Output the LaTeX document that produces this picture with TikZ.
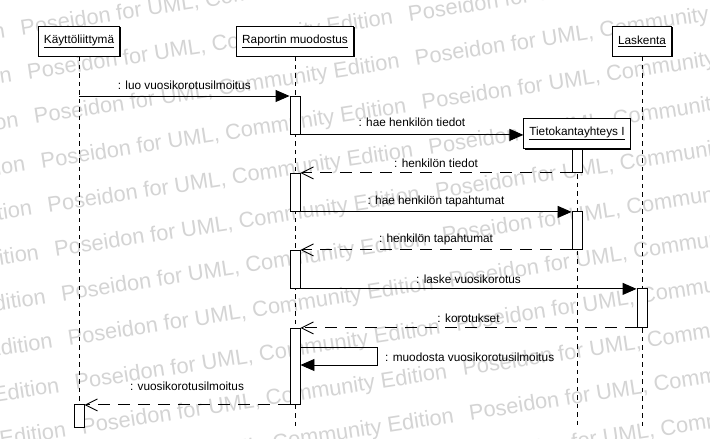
\documentclass[tikz,border=0pt]{standalone}
\usepackage{fontspec}
\setmainfont{Liberation Sans}
\usetikzlibrary{arrows.meta,shadows,calc}
\definecolor{wmgray}{RGB}{212,212,212}
\begin{document}
\begin{tikzpicture}[x=1pt,y=-1pt,
  font=\fontsize{11.8}{14}\selectfont,
  obj/.style={draw, fill=white, line width=0.9pt, minimum height=30pt, inner xsep=5.5pt, inner ysep=0pt,
    drop shadow={shadow xshift=1.3pt, shadow yshift=-1.3pt, fill=black, opacity=1}},
  act/.style={draw, fill=white, line width=0.9pt, minimum width=10pt, inner sep=0pt, anchor=north},
  lifeline/.style={line width=0.9pt, dash pattern=on 4.5pt off 4pt},
  call/.style={line width=0.9pt, -{Triangle[length=14pt,width=12pt]}},
  ret/.style={line width=0.9pt, dash pattern=on 12pt off 8pt, -{Straight Barb[length=12pt,width=12pt,line width=0.9pt]}},
  lbl/.style={midway, anchor=base, inner sep=0pt},
  wm/.style={text=wmgray, font=\fontsize{21.8}{26}\selectfont, inner sep=0pt, anchor=base west, rotate=8.7}
]
\useasboundingbox (0,0) rectangle (710,439);
\fill[white] (0,0) rectangle (710,439);

% watermark
\begin{scope}
\clip (0,0) rectangle (710,439);
\foreach \r in {-4,...,11}{
  \foreach \k in {-1,0,1}{
    \node[wm] (wm-\r-\k) at ({35+6.77*\r+381*\k},{124+44.3*\r-58.3*\k}) {Poseidon for UML, Community Edition};
  }
}
\end{scope}

% objects
\node[obj] (K) at (79,41) {\underline{Käyttöliittymä}};
\node[obj] (R) at (295,41) {\underline{Raportin muodostus}};
\node[obj] (L) at (642,41) {\underline{Laskenta}};
\coordinate (bot) at (0,427);

% lifelines
\draw[lifeline] (K.south) -- (K |- bot);
\draw[lifeline] (R.south) -- (R |- bot);
\draw[lifeline] (L.south) -- (L |- bot);

\node[obj] (T) at (577,133.5) {\underline{Tietokantayhteys I}};
\draw[lifeline] (T.south) -- (T |- bot);

% activations
\node[act, minimum height=38pt] (R1) at (295,96) {};
\node[act, minimum height=38pt] (R2) at (295,173) {};
\node[act, minimum height=38pt] (R3) at (295,250) {};
\node[act, minimum height=76pt] (R4) at (295,328) {};
\node[act, minimum height=23pt] (T1) at (577,149) {};
\node[act, minimum height=38pt] (T2) at (577,211) {};
\node[act, minimum height=39pt] (L1) at (642,288) {};
\node[act, minimum height=23pt] (K1) at (79,404) {};

% messages
\draw[call] (K |- R1.north) -- (R1.north west)
  node[lbl, yshift=6.5pt] (m1) {: luo vuosikorotusilmoitus};
\draw[call] (R1.south east) -- (R1.south east -| T.west)
  node[lbl, yshift=8pt] (m2) {: hae henkilön tiedot};
\draw[ret] (T1.south west) -- (T1.south west -| R2.north east)
  node[lbl, yshift=5.5pt] (m3) {: henkilön tiedot};
\draw[call] (R2.south east) -- (R2.south east -| T2.north west)
  node[lbl, yshift=7pt] (m4) {: hae henkilön tapahtumat};
\draw[ret] (T2.south west) -- (T2.south west -| R3.north east)
  node[lbl, yshift=7.5pt] (m5) {: henkilön tapahtumat};
\draw[call] (R3.south east) -- (R3.south east -| L1.north west)
  node[lbl, yshift=5.5pt] (m6) {: laske vuosikorotus};
\draw[ret] (L1.south west) -- (L1.south west -| R4.north east)
  node[lbl, yshift=5.5pt] (m7) {: korotukset};

\coordinate (s1) at (377,347);
\coordinate (s2) at (377,365);
\draw[call] (R4.east |- s1) -- (s1) -- (s2) -- (R4.east |- s2);
\path (s1) -- (s2) node[midway, anchor=base west, inner sep=0pt, xshift=8pt, yshift=-5pt] (m8) {: muodosta vuosikorotusilmoitus};

\draw[ret] (R4.south west) -- (R4.south west -| K1.north east)
  node[lbl, yshift=14pt] (m9) {: vuosikorotusilmoitus};
\end{tikzpicture}
\end{document}
